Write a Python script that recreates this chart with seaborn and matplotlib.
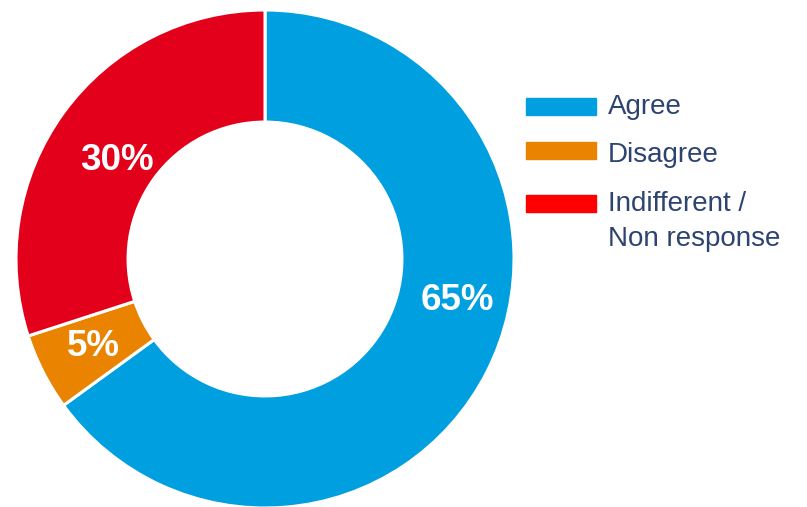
import matplotlib
matplotlib.use("Agg")
import numpy as np
import matplotlib.pyplot as plt
from matplotlib.patches import Rectangle
import seaborn as sns

# Survey responses
categories = ["Agree", "Disagree", "Indifferent /\nNon response"]
shares = [65, 5, 30]
value_labels = ["65%", "5%", "30%"]
slice_colors = ["#009FDF", "#E98300", "#E2001A"]
legend_colors = ["#009FDF", "#E98300", "#FF0000"]

sns.set_theme(style="white")
plt.rcParams["font.family"] = ["Liberation Sans", "DejaVu Sans"]

W, H = 807, 507
fig = plt.figure(figsize=(W / 100, H / 100), dpi=100)

# Donut: centre (265, 259) px, outer radius 249 px
cx, cy, R = 265, 259, 249
ax = fig.add_axes([(cx - R) / W, (H - cy - R) / H, 2 * R / W, 2 * R / H])
wedges, _ = ax.pie(
    shares,
    colors=sns.color_palette(slice_colors),
    startangle=90,
    counterclock=False,
    radius=1.0,
    wedgeprops=dict(width=0.45, edgecolor="white", linewidth=2.2),
)
ax.set_xlim(-1, 1)
ax.set_ylim(-1, 1)
ax.set_aspect("equal")
ax.axis("off")

# Percentage labels inside the ring; the small slice gets its label at
# the middle of its wedge, the larger ones are nudged like the original layout
label_nudge = [(0.772, -0.165), None, (-0.594, 0.397)]
for w, txt, pos in zip(wedges, value_labels, label_nudge):
    if pos is None:
        mid = np.deg2rad((w.theta1 + w.theta2) / 2)
        pos = (0.775 * np.cos(mid), 0.775 * np.sin(mid))
    ax.text(pos[0], pos[1], txt, ha="center", va="center", color="white",
            fontsize=26.5, fontweight="bold")

# Legend drawn as swatches and labels in pixel layout
text_color = "#2E4470"
swatch_tops = [98, 142, 195]
baselines = [114, 162, 211]
for top, base, lab, col in zip(swatch_tops, baselines, categories, legend_colors):
    fig.patches.append(Rectangle((526 / W, (H - top - 17) / H), 70 / W, 17 / H,
                                 transform=fig.transFigure, color=col))
    for i, line in enumerate(lab.split("\n")):
        fig.text(608 / W, (H - base - 35 * i) / H, line, ha="left",
                 va="baseline", fontsize=20, color=text_color)

fig.savefig("out.png", dpi=100, facecolor="white")
